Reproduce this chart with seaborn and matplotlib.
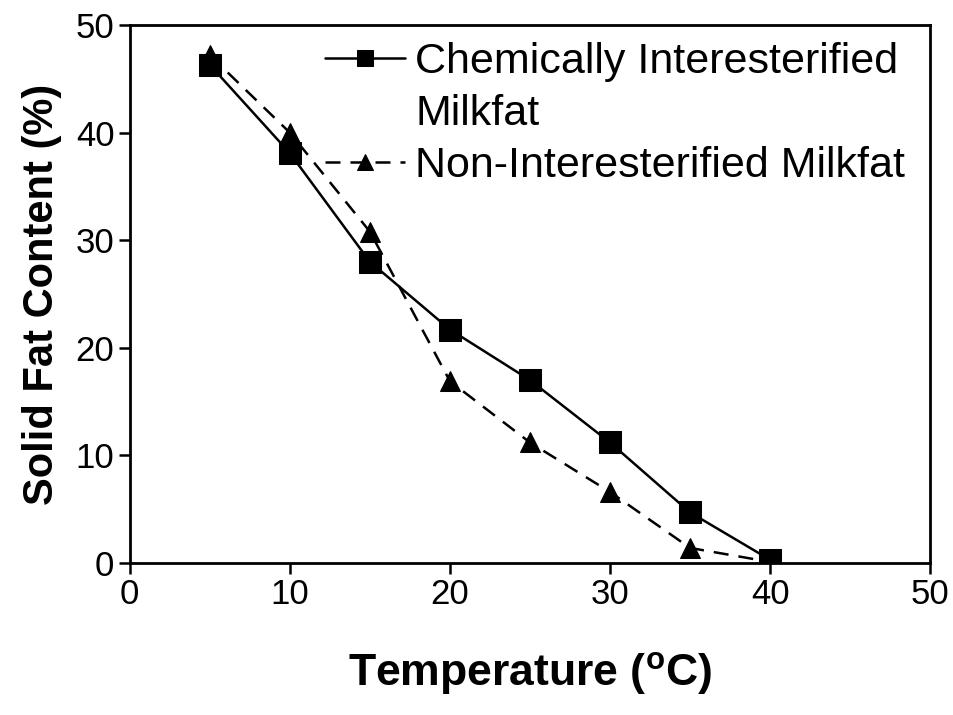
import matplotlib
matplotlib.use("Agg")
import matplotlib.pyplot as plt
from matplotlib.lines import Line2D
import seaborn as sns
import pandas as pd

temperature = [5, 10, 15, 20, 25, 30, 35, 40]
chem_sfc = [46.3, 38.1, 28.0, 21.7, 17.0, 11.2, 4.7, 0.3]
nonie_sfc = [47.2, 40.0, 30.8, 16.9, 11.2, 6.6, 1.4, 0.1]
chem_label = "Chemically Interesterified\nMilkfat"
nonie_label = "Non-Interesterified Milkfat"
xticks = [0, 10, 20, 30, 40, 50]
yticks = [0, 10, 20, 30, 40, 50]

sns.set_theme(style="ticks")
plt.rcParams["font.family"] = ["Liberation Sans", "DejaVu Sans"]
plt.rcParams["text.color"] = "black"
plt.rcParams["axes.labelcolor"] = "black"
plt.rcParams["xtick.color"] = "black"
plt.rcParams["ytick.color"] = "black"
plt.rcParams["mathtext.fontset"] = "custom"
plt.rcParams["mathtext.rm"] = "Liberation Sans:bold"
plt.rcParams["mathtext.bf"] = "Liberation Sans:bold"

df = pd.DataFrame({"T": temperature, "chem": chem_sfc, "non": nonie_sfc})

fig = plt.figure(figsize=(9.54, 7.15), dpi=100)
ax = fig.add_axes([0.136, 0.2126, 0.839, 0.7524])

sns.lineplot(data=df, x="T", y="chem", ax=ax, color="black", linewidth=1.8,
             marker="s", markersize=16, markeredgecolor="black",
             label=chem_label)
sns.lineplot(data=df, x="T", y="non", ax=ax, color="black", linewidth=1.8,
             linestyle=(0, (6, 4)), marker="^", markersize=15,
             markeredgecolor="black", label=nonie_label)

ax.set_xlim(0, 50)
ax.set_ylim(0, 50)
ax.set_xticks(xticks)
ax.set_yticks(yticks)
ax.tick_params(axis="both", direction="out", length=8, width=1.8,
               labelsize=25, pad=3, colors="black")
for s in ax.spines.values():
    s.set_visible(True)
    s.set_linewidth(2)
    s.set_color("black")

ax.set_xlabel(r"Temperature ($^{\mathbf{o}}$C)", fontsize=32,
              fontweight="bold", labelpad=28)
ax.set_ylabel("Solid Fat Content (%)", fontsize=30, fontweight="bold",
              labelpad=10)

# legend: handle aligned with the first line of the two-line label
handles, labels = ax.get_legend_handles_labels()
first, second = chem_label.split("\n")
blank = Line2D([], [], linestyle="none", marker=None)
leg = ax.legend([handles[0], blank, handles[1]], [first, second, labels[1]],
                loc="upper left", bbox_to_anchor=(0.244, 0.968), frameon=False,
                fontsize=31, handlelength=1.85, handletextpad=0.25,
                labelspacing=0.28, borderaxespad=0, borderpad=0)
for h in leg.legend_handles:
    if h.get_marker() not in (None, "None", "none", ""):
        h.set_markersize(11)

fig.savefig("out.png", dpi=100)
